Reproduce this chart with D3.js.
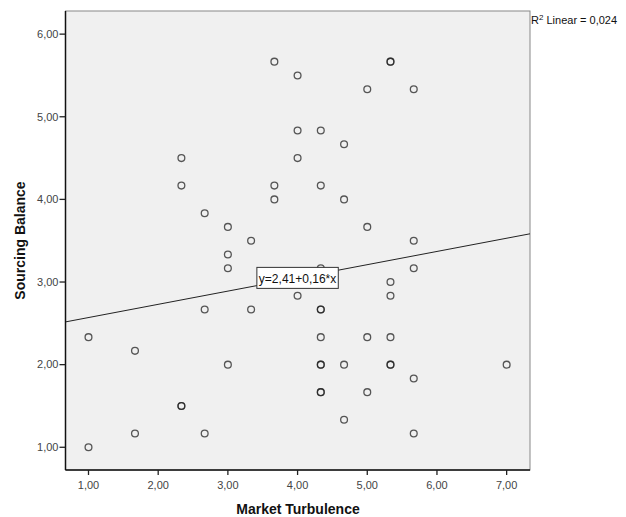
<!DOCTYPE html>
<html lang="en">
<head>
  <meta charset="UTF-8">
  <title>Sourcing Balance vs Market Turbulence</title>
  <script src="https://d3js.org/d3.v7.min.js"></script>
  <style>
    body {margin: 0; background: #fff;}
    .tick-label {font-family: "Liberation Sans", Arial, sans-serif; font-size: 11px; fill: #444;}
    .axis-title {font-family: "Liberation Sans", Arial, sans-serif; font-size: 14px; font-weight: bold; fill: #111;}
  </style>
</head>
<body>
<div id="chart"></div>
<script>
  // market turbulence (x) and sourcing balance (y), duplicates kept
  const turbulence = [
    1, 1,
    1.667, 1.667,
    2.333, 2.333, 2.333, 2.333,
    2.667, 2.667, 2.667,
    3, 3, 3, 3,
    3.333, 3.333,
    3.667, 3.667, 3.667,
    4, 4, 4, 4,
    4.333, 4.333, 4.333, 4.333, 4.333, 4.333, 4.333, 4.333, 4.333, 4.333,
    4.667, 4.667, 4.667, 4.667,
    5, 5, 5, 5,
    5.333, 5.333, 5.333, 5.333, 5.333, 5.333, 5.333,
    5.667, 5.667, 5.667, 5.667, 5.667,
    7
  ];
  const sourcing = [
    2.333, 1,
    2.167, 1.167,
    4.5, 4.167, 1.5, 1.5,
    3.833, 2.667, 1.167,
    3.667, 3.333, 3.167, 2,
    3.5, 2.667,
    5.667, 4.167, 4,
    5.5, 4.833, 4.5, 2.833,
    4.833, 4.167, 3.167, 2.667, 2.667, 2.333, 2, 2, 1.667, 1.667,
    4.667, 4, 2, 1.333,
    5.333, 3.667, 2.333, 1.667,
    5.667, 5.667, 3, 2.833, 2.333, 2, 2,
    5.333, 3.5, 3.167, 1.833, 1.167,
    2
  ];
  const xTicks = [1, 2, 3, 4, 5, 6, 7];
  const yTicks = [1, 2, 3, 4, 5, 6];
  const fitIntercept = 2.41;
  const fitSlope = 0.16;
  const fitLabel = "y=2,41+0,16*x";
  const r2Text = "0,024";

  const width = 626, height = 517;
  const plotL = 65.5, plotR = 530, plotT = 11, plotB = 470;

  const svg = d3.select("#chart").append("svg")
    .attr("width", width)
    .attr("height", height);

  const x = d3.scaleLinear().domain([0.67, 7.335]).range([plotL, plotR]);
  const y = d3.scaleLinear().domain([0.725, 6.28]).range([plotB, plotT]);
  const fmt = v => d3.format(".2f")(v).replace(".", ",");

  // plot background + frame
  svg.append("rect")
    .attr("x", plotL).attr("y", plotT)
    .attr("width", plotR - plotL).attr("height", plotB - plotT)
    .attr("fill", "#f0f0f0")
    .attr("stroke", "#888").attr("stroke-width", 1);

  // regression line
  const xd = x.domain();
  svg.append("line")
    .attr("x1", x(xd[0])).attr("y1", y(fitIntercept + fitSlope * xd[0]))
    .attr("x2", x(xd[1])).attr("y2", y(fitIntercept + fitSlope * xd[1]))
    .attr("stroke", "#222").attr("stroke-width", 1);

  // points
  svg.append("g").selectAll("circle")
    .data(d3.range(turbulence.length))
    .enter().append("circle")
    .attr("cx", i => x(turbulence[i]))
    .attr("cy", i => y(sourcing[i]))
    .attr("r", 3.4)
    .attr("fill", "none")
    .attr("stroke", "#222")
    .attr("stroke-opacity", 0.75)
    .attr("stroke-width", 1.3);

  // equation label, centred on the fit line
  const lx = 4.0;
  const ly = y(fitIntercept + fitSlope * lx);
  const lg = svg.append("g");
  const lt = lg.append("text")
    .attr("x", x(lx)).attr("y", ly + 0.5)
    .attr("text-anchor", "middle")
    .attr("dy", "0.35em")
    .style("font-family", "'Liberation Sans', Arial, sans-serif")
    .style("font-size", "12px")
    .attr("fill", "#111")
    .text(fitLabel);
  const bb = lt.node().getBBox();
  lg.insert("rect", "text")
    .attr("x", bb.x - 2).attr("y", ly - 10.5)
    .attr("width", bb.width + 4).attr("height", 21)
    .attr("fill", "#fff").attr("stroke", "#333");

  // axes (left & bottom in black)
  svg.append("line").attr("x1", plotL).attr("x2", plotL).attr("y1", plotT).attr("y2", plotB)
    .attr("stroke", "#111").attr("stroke-width", 1.5);
  svg.append("line").attr("x1", plotL).attr("x2", plotR).attr("y1", plotB).attr("y2", plotB)
    .attr("stroke", "#111").attr("stroke-width", 1.5);

  const yAxis = svg.append("g");
  yAxis.selectAll("line").data(yTicks).enter().append("line")
    .attr("x1", plotL - 6).attr("x2", plotL)
    .attr("y1", d => y(d)).attr("y2", d => y(d))
    .attr("stroke", "#222").attr("stroke-width", 1.3);
  yAxis.selectAll("text").data(yTicks).enter().append("text")
    .attr("class", "tick-label")
    .attr("x", plotL - 7).attr("y", d => y(d)).attr("dy", "0.35em")
    .attr("text-anchor", "end")
    .text(fmt);

  const xAxis = svg.append("g");
  xAxis.selectAll("line").data(xTicks).enter().append("line")
    .attr("x1", d => x(d)).attr("x2", d => x(d))
    .attr("y1", plotB).attr("y2", plotB + 5)
    .attr("stroke", "#222").attr("stroke-width", 1.3);
  xAxis.selectAll("text").data(xTicks).enter().append("text")
    .attr("class", "tick-label")
    .attr("x", d => x(d)).attr("y", plotB + 19)
    .attr("text-anchor", "middle")
    .text(fmt);

  svg.append("text").attr("class", "axis-title")
    .attr("x", 298).attr("y", 514)
    .attr("text-anchor", "middle")
    .text("Market Turbulence");
  svg.append("text").attr("class", "axis-title")
    .attr("transform", "translate(25,240.5) rotate(-90)")
    .attr("text-anchor", "middle")
    .text("Sourcing Balance");

  // R² note
  const r2 = svg.append("text")
    .attr("x", 531).attr("y", 24)
    .style("font-family", "'Liberation Sans', Arial, sans-serif")
    .style("font-size", "11px")
    .attr("fill", "#111");
  r2.append("tspan").text("R");
  r2.append("tspan").attr("dy", -4).style("font-size", "8px").text("2");
  r2.append("tspan").attr("dy", 4).text(" Linear = " + r2Text);
</script>
</body>
</html>
